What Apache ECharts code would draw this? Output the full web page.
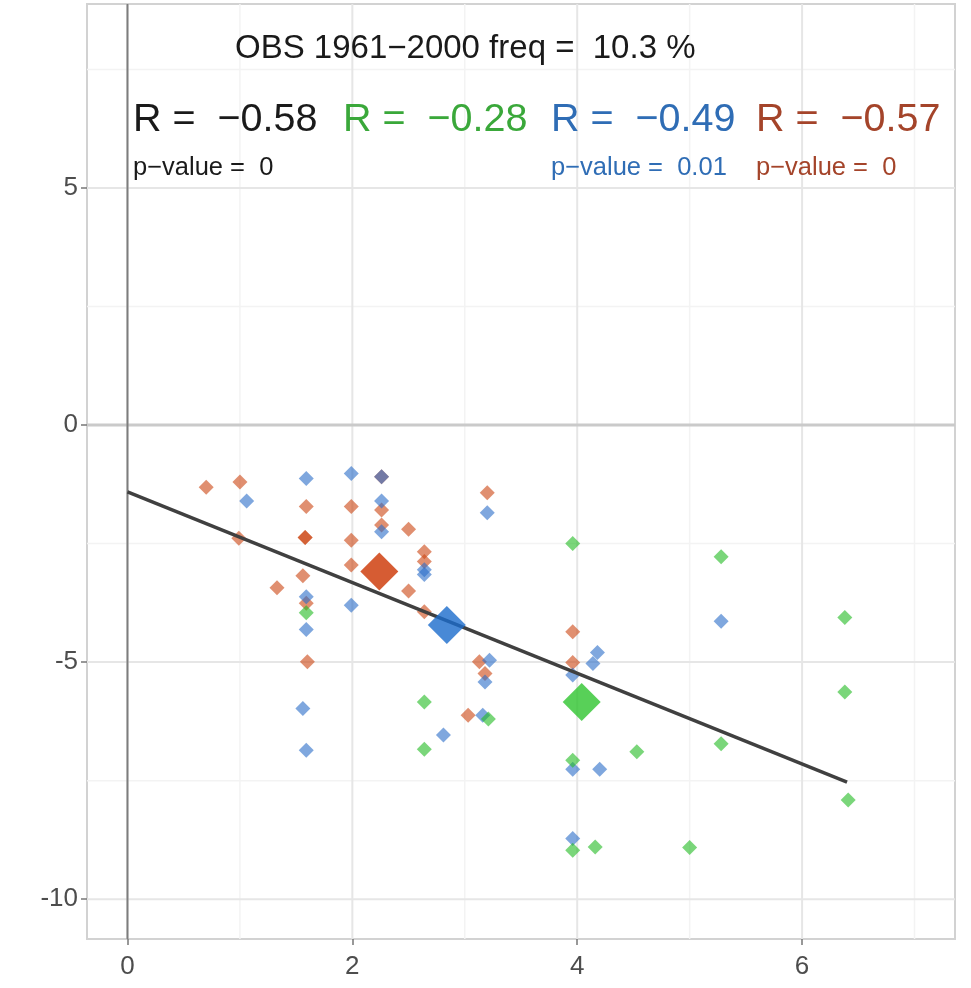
<!DOCTYPE html>
<html>
<head>
<meta charset="utf-8">
<script src="https://cdn.jsdelivr.net/npm/echarts@6/dist/echarts.min.js"></script>
<style>
  html, body { margin: 0; padding: 0; background: #ffffff; }
  #chart { width: 971px; height: 988px; }
</style>
</head>
<body>
<div id="chart"></div>
<script>
// Axis extents, ticks and grid positions
const xMin = -0.36, xMax = 7.36;
const yMin = -10.84, yMax = 8.88;
const xTicks = [0, 2, 4, 6];
const yTicks = [-10, -5, 0, 5];
const xMinor = [1, 3, 5, 7];
const yMinor = [-7.5, -2.5, 2.5, 7.5];

// Per-member points (x, y) for the three groups
const redPts = [
  [0.70, -1.31], [1.00, -1.20], [0.99, -2.39], [1.59, -1.72], [1.58, -2.37], [1.58, -2.37],
  [1.56, -3.18], [1.33, -3.43], [1.59, -3.76], [1.60, -4.99], [1.99, -1.72], [1.99, -2.43],
  [1.99, -2.95], [2.26, -1.09], [2.26, -1.79], [2.26, -2.11], [2.50, -2.20], [2.50, -3.50],
  [2.64, -2.67], [2.64, -2.88], [2.64, -3.94], [3.20, -1.43], [3.13, -4.99], [3.18, -5.24],
  [3.03, -6.12], [3.96, -4.36], [3.96, -5.01]
];
const bluePts = [
  [1.06, -1.60], [1.59, -1.13], [1.59, -3.62], [1.59, -4.31], [1.56, -5.98], [1.59, -6.86],
  [1.99, -1.02], [1.99, -3.80], [2.26, -1.09], [2.26, -1.60], [2.26, -2.25], [2.64, -3.05],
  [2.64, -3.15], [2.81, -6.54], [3.20, -1.85], [3.22, -4.96], [3.18, -5.42], [3.16, -6.12],
  [3.96, -5.27], [4.18, -4.80], [4.14, -5.03], [3.96, -7.26], [4.20, -7.26], [3.96, -8.72],
  [5.28, -4.14]
];
const greenPts = [
  [1.59, -3.96], [2.64, -5.84], [2.64, -6.84], [3.21, -6.20], [3.96, -2.50], [3.96, -7.07],
  [3.96, -8.97], [4.16, -8.90], [4.53, -6.89], [5.00, -8.91], [5.28, -2.78], [5.28, -6.72],
  [6.38, -4.06], [6.38, -5.63], [6.41, -7.91]
];

// Group means
const redMean = [[2.24, -3.09]];
const blueMean = [[2.84, -4.22]];
const greenMean = [[4.04, -5.84]];

// Fitted regression line end points
const fitX = [0, 6.4];
const fitY = [-1.41, -7.53];

// Annotation texts
const titleText = 'OBS 1961\u22122000 freq =  10.3 %';
const rLabels = ['R =  \u22120.58', 'R =  \u22120.28', 'R =  \u22120.49', 'R =  \u22120.57'];
const pLabels = ['p\u2212value =  0', '', 'p\u2212value =  0.01', 'p\u2212value =  0'];

const FONT = '"Liberation Sans", Arial, Helvetica, sans-serif';
const textColors = ['#1a1a1a', '#3aa83a', '#2f6db5', '#a4442a'];
const rLeft = [133, 343, 551, 756];

const chart = echarts.init(document.getElementById('chart'), null, { renderer: 'canvas' });

// One straight line series per grid/reference line, spanning the full axis range
function vLine(v, color, width, z) {
  return { type: 'line', data: [[v, yMin], [v, yMax]], symbol: 'none', silent: true, z: z,
    lineStyle: { color: color, width: width }, animation: false };
}
function hLine(v, color, width, z) {
  return { type: 'line', data: [[xMin, v], [xMax, v]], symbol: 'none', silent: true, z: z,
    lineStyle: { color: color, width: width }, animation: false };
}

const gridSeries = [].concat(
  xMinor.map(v => vLine(v, '#f3f3f3', 1.5, 0)),
  yMinor.map(v => hLine(v, '#f3f3f3', 1.5, 0)),
  xTicks.map(v => vLine(v, '#e6e6e6', 2, 0)),
  yTicks.map(v => hLine(v, '#e6e6e6', 2, 0)),
  [hLine(0, '#cacaca', 3, 1), vLine(0, '#7d7d7d', 2, 1)]
);

const graphics = [];
graphics.push({
  type: 'text', x: 235, y: 49,
  style: { text: titleText, font: '33px ' + FONT, fill: '#1a1a1a', align: 'left', verticalAlign: 'middle' },
  z: 100
});
rLabels.forEach((t, i) => {
  graphics.push({
    type: 'text', x: rLeft[i], y: 120,
    style: { text: t, font: '39.5px ' + FONT, fill: textColors[i], align: 'left', verticalAlign: 'middle' },
    z: 100
  });
  if (pLabels[i]) {
    graphics.push({
      type: 'text', x: rLeft[i], y: 168,
      style: { text: pLabels[i], font: '25.5px ' + FONT, fill: textColors[i], align: 'left', verticalAlign: 'middle' },
      z: 100
    });
  }
});

const option = {
  animation: false,
  backgroundColor: '#ffffff',
  grid: {
    left: 87, right: 16, top: 4, bottom: 49,
    show: true, borderColor: '#d2d2d2', borderWidth: 2, backgroundColor: '#ffffff'
  },
  xAxis: {
    type: 'value', min: xMin, max: xMax,
    axisLine: { show: false, onZero: false },
    splitLine: { show: false },
    axisTick: { show: true, customValues: xTicks, length: 6, lineStyle: { color: '#777', width: 1.5 } },
    axisLabel: { customValues: xTicks, margin: 15, fontSize: 26, color: '#4d4d4d', fontFamily: FONT }
  },
  yAxis: {
    type: 'value', min: yMin, max: yMax,
    axisLine: { show: false, onZero: false },
    splitLine: { show: false },
    axisTick: { show: true, customValues: yTicks, length: 6, lineStyle: { color: '#777', width: 1.5 } },
    axisLabel: { customValues: yTicks, margin: 9, fontSize: 26, color: '#4d4d4d', fontFamily: FONT }
  },
  graphic: graphics,
  series: gridSeries.concat([
    {
      name: 'red', type: 'scatter', data: redPts, symbol: 'diamond', symbolSize: 15, z: 3,
      itemStyle: { color: '#cc4411', opacity: 0.6 }
    },
    {
      name: 'blue', type: 'scatter', data: bluePts, symbol: 'diamond', symbolSize: 15, z: 3,
      itemStyle: { color: '#2a6cc8', opacity: 0.6 }
    },
    {
      name: 'green', type: 'scatter', data: greenPts, symbol: 'diamond', symbolSize: 15, z: 3,
      itemStyle: { color: '#22bb22', opacity: 0.6 }
    },
    {
      name: 'fit', type: 'line', data: fitX.map((x, i) => [x, fitY[i]]), symbol: 'none', z: 4,
      lineStyle: { color: '#404040', width: 3.5 }
    },
    {
      name: 'redMean', type: 'scatter', data: redMean, symbol: 'diamond', symbolSize: 38, z: 5,
      itemStyle: { color: '#cc3300' }
    },
    {
      name: 'blueMean', type: 'scatter', data: blueMean, symbol: 'diamond', symbolSize: 38, z: 5,
      itemStyle: { color: '#1a6bcc' }
    },
    {
      name: 'greenMean', type: 'scatter', data: greenMean, symbol: 'diamond', symbolSize: 38, z: 5,
      itemStyle: { color: '#2ec42e' }
    }
  ])
};

chart.setOption(option);
</script>
</body>
</html>
